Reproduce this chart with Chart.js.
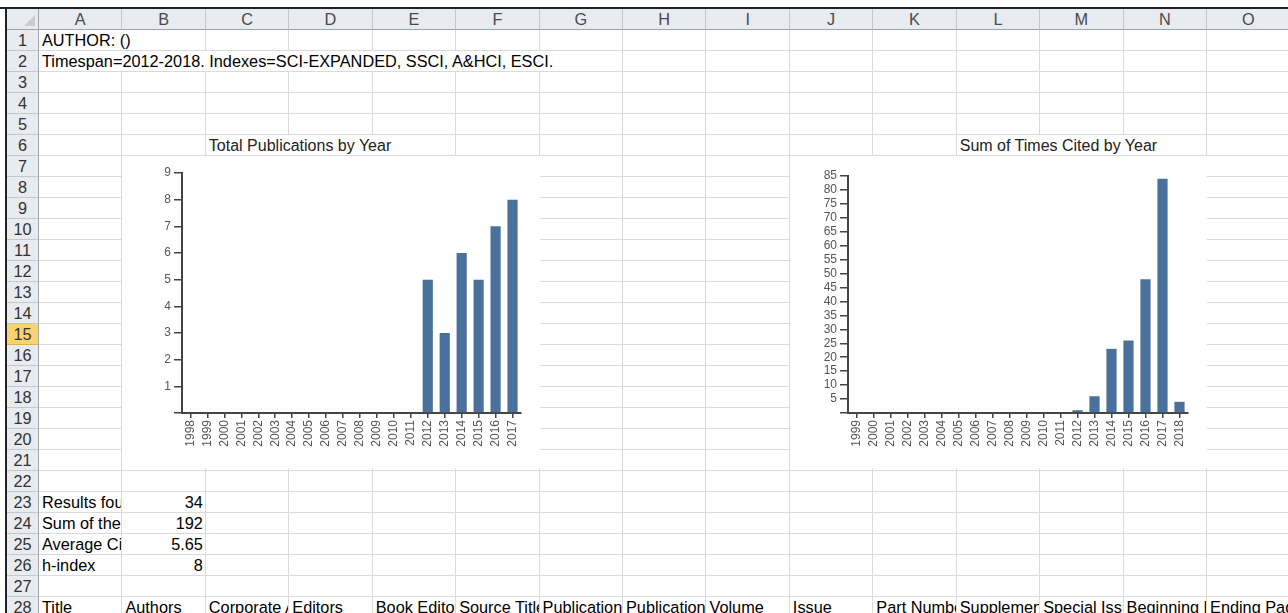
<!DOCTYPE html>
<html>
<head>
<meta charset="utf-8">
<script src="https://cdn.jsdelivr.net/npm/chart.js@4.4.1/dist/chart.umd.min.js"></script>
<style>
  body { margin: 0; background: #fff; }
  #sheet { position: relative; width: 1288px; height: 613px; overflow: hidden;
           font-family: Arial, "Liberation Sans", sans-serif; font-size: 16.3px; }
  .cell { position: absolute; box-sizing: border-box; height: 21px;
          border-right: 1px solid #dadada; border-bottom: 1px solid #dadada;
          white-space: nowrap; overflow: hidden; line-height: 21px; padding: 0 2px 0 3px; color: #000; }
  .title { font-size: 16px; color: #222; }
  .hdr { position: absolute; box-sizing: border-box; background: #e8ebef; color: #4a4a4a;
         text-align: center; line-height: 21px; height: 21px; }
  .colhdr { border-right: 1px solid #c4c8ce; border-bottom: 1px solid #9ea4ab; }
  .rowhdr { border-right: 1px solid #9ea4ab; border-bottom: 1px solid #c4c8ce; color: #333; }
  .rowhdr.sel { background: #f9d36f; border-bottom-color: #e0b24a; }
  .blk { position: absolute; background: #222; }
  canvas { position: absolute; background: #fff; }
</style>
</head>
<body>
<div id="sheet">
  <canvas id="pubChart" width="418" height="312" style="left:122px; top:156px;"></canvas>
  <canvas id="citeChart" width="417" height="312" style="left:790px; top:156px;"></canvas>
</div>
<script>
// chart data
const pubYears = ['1998', '1999', '2000', '2001', '2002', '2003', '2004', '2005', '2006', '2007',
  '2008', '2009', '2010', '2011', '2012', '2013', '2014', '2015', '2016', '2017'];
const pubCounts = [0, 0, 0, 0, 0, 0, 0, 0, 0, 0, 0, 0, 0, 0, 5, 3, 6, 5, 7, 8];

const citeYears = ['1999', '2000', '2001', '2002', '2003', '2004', '2005', '2006', '2007', '2008',
  '2009', '2010', '2011', '2012', '2013', '2014', '2015', '2016', '2017', '2018'];
const citeSums = [0, 0, 0, 0, 0, 0, 0, 0, 0, 0, 0, 0, 0, 1, 6, 23, 26, 48, 84, 4];

// sheet text
const colLetters = ['A', 'B', 'C', 'D', 'E', 'F', 'G', 'H', 'I', 'J', 'K', 'L', 'M', 'N', 'O'];
const summaryLabels = ['Results found', 'Sum of the Times Cited', 'Average Citations per Item', 'h-index'];
const summaryValues = ['34', '192', '5.65', '8'];
const recordHeaders = ['Title', 'Authors', 'Corporate Authors', 'Editors', 'Book Editors', 'Source Title',
  'Publication Date', 'Publication Year', 'Volume', 'Issue', 'Part Number', 'Supplement',
  'Special Issue', 'Beginning Page', 'Ending Page'];

const sheet = document.getElementById('sheet');
const colW = 83.43, rowH = 21, left0 = 39, top0 = 30;
const colX = i => left0 + i * colW;
const rowY = r => top0 + (r - 1) * rowH;

// text cells: row, col, span, text, align, class
const cells = [
  [1, 0, 2, 'AUTHOR: ()'],
  [2, 0, 7, 'Timespan=2012-2018. Indexes=SCI-EXPANDED, SSCI, A&HCI, ESCI.'],
  [6, 2, 3, 'Total Publications by Year', null, 'title'],
  [6, 11, 3, 'Sum of Times Cited by Year', null, 'title']
];
summaryLabels.forEach((t, i) => {
  cells.push([23 + i, 0, 1, t]);
  cells.push([23 + i, 1, 1, summaryValues[i], 'right']);
});
recordHeaders.forEach((t, i) => cells.push([28, i, 1, t]));

function addDiv(cls, x, y, w, h, text, extra) {
  const d = document.createElement('div');
  d.className = cls;
  d.style.left = x + 'px';
  d.style.top = y + 'px';
  d.style.width = w + 'px';
  if (h) d.style.height = h + 'px';
  if (text) d.textContent = text;
  if (extra) Object.assign(d.style, extra);
  sheet.insertBefore(d, sheet.firstChild);
  return d;
}

for (let r = 1; r <= 28; r++) {
  const rowCells = cells.filter(c => c[0] === r);
  let c = 0;
  while (c < colLetters.length) {
    const found = rowCells.find(k => k[1] === c);
    const span = found ? found[2] : 1;
    addDiv('cell' + (found && found[5] ? ' ' + found[5] : ''), colX(c), rowY(r), colW * span, 0,
      found ? found[3] : '', found && found[4] ? { textAlign: found[4] } : null);
    c += span;
  }
  addDiv('hdr rowhdr' + (r === 15 ? ' sel' : ''), 7, rowY(r), left0 - 7, rowH, String(r));
}

colLetters.forEach((l, i) => addDiv('hdr colhdr', colX(i), 9, colW, rowH, l));
const corner = addDiv('hdr colhdr', 7, 9, left0 - 7, rowH, '', { borderRight: '1px solid #9ea4ab' });
const tri = document.createElement('div');
Object.assign(tri.style, { position: 'absolute', right: '3px', bottom: '3px', width: 0, height: 0,
  borderLeft: '11px solid transparent', borderBottom: '11px solid #c9cdd3' });
corner.appendChild(tri);

addDiv('blk', 0, 7, 1288, 2);
addDiv('blk', 5, 7, 2, 606);

// charts
Chart.defaults.font.family = 'Arial, "Liberation Sans", sans-serif';
Chart.defaults.color = '#555';

function makeChart(id, labels, values, max, step, yWidth, topPad, ySize) {
  return new Chart(document.getElementById(id), {
    type: 'bar',
    data: {
      labels: labels,
      datasets: [{
        data: values,
        backgroundColor: '#4a709c',
        barPercentage: 0.6,
        categoryPercentage: 1.0
      }]
    },
    options: {
      responsive: false,
      animation: false,
      devicePixelRatio: 1,
      layout: { padding: { top: topPad, right: 19, left: 0, bottom: 0 } },
      plugins: {
        legend: { display: false },
        tooltip: { enabled: false }
      },
      scales: {
        x: {
          afterFit: s => { s.height = 55; },
          grid: { offset: false, drawOnChartArea: false, drawTicks: true, tickLength: 5,
                  color: '#444', lineWidth: 1.5 },
          border: { color: '#444', width: 2 },
          ticks: { autoSkip: false, minRotation: 90, maxRotation: 90, padding: 2,
                   font: { size: 12 }, color: '#555' }
        },
        y: {
          min: 0,
          max: max,
          afterFit: s => { s.width = yWidth; },
          grid: { drawOnChartArea: false, drawTicks: true, tickLength: 8,
                  color: '#444', lineWidth: 1.5 },
          border: { color: '#444', width: 2 },
          ticks: { stepSize: step, autoSkip: false, padding: 3, font: { size: ySize }, color: '#555',
                   callback: v => (v === 0 ? '' : v) }
        }
      }
    }
  });
}

makeChart('pubChart', pubYears, pubCounts, 9, 1, 60, 17, 12);
makeChart('citeChart', citeYears, citeSums, 85, 5, 58, 20, 12);
</script>
</body>
</html>
